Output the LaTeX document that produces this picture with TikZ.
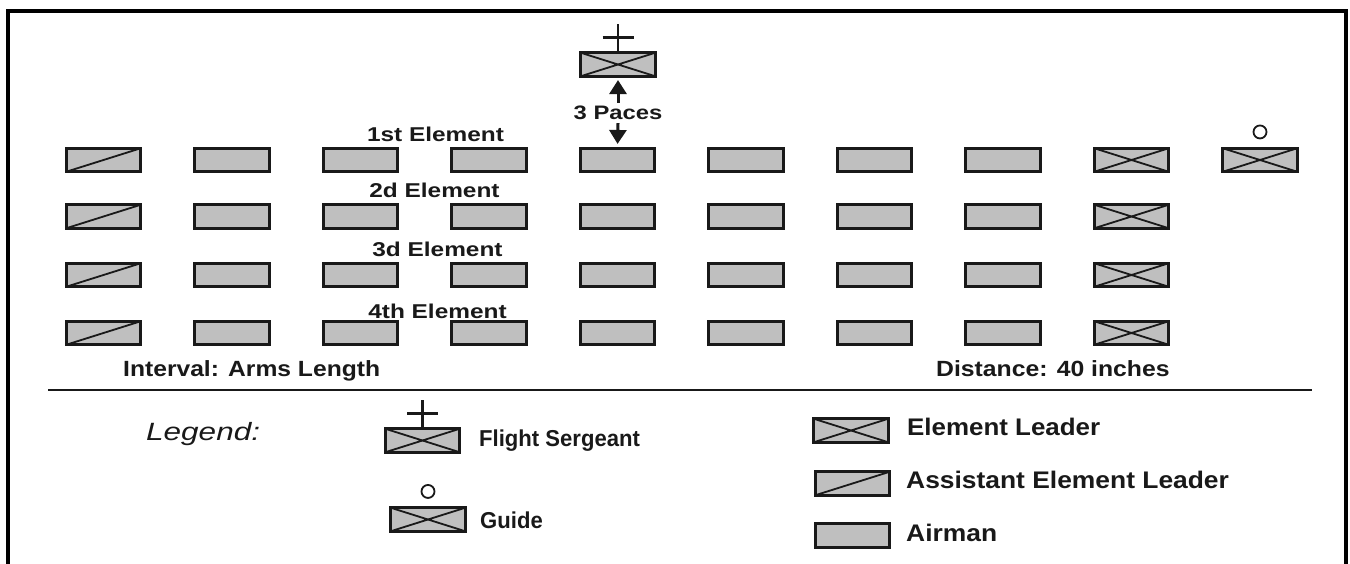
\documentclass[tikz,border=0pt]{standalone}
\usepackage{fontspec}
\usepackage{graphicx}
\setmainfont{Liberation Sans}
\usetikzlibrary{arrows.meta}
\newcommand{\hsc}[2]{\scalebox{#1}[1]{#2}}
\definecolor{boxfill}{gray}{0.75}
\definecolor{ink}{gray}{0.1}
\newcommand{\sgcross}[1]{\draw[ink,line width=2.4pt] (#1.north) -- ++(0,-27) ([xshift=-15.5pt]#1.north) ++(0,-14) -- ++(31,0);}
\newcommand{\gdmark}[1]{\draw[ink,line width=1.8pt] (#1.north) ++(0,-15) circle[radius=6.5pt];}
\begin{document}
\begin{tikzpicture}[x=1pt,y=-1pt,
  man/.style={shape=rectangle, draw=ink, line width=2.6pt, fill=boxfill,
    minimum width=74.5pt, minimum height=23.5pt, inner sep=0pt},
  lead/.style={man, path picture={\draw[ink,line width=1.8pt]
    (path picture bounding box.north west) -- (path picture bounding box.south east)
    (path picture bounding box.south west) -- (path picture bounding box.north east);}},
  asst/.style={man, path picture={\draw[ink,line width=1.8pt]
    (path picture bounding box.south west) -- (path picture bounding box.north east);}},
  lab/.style={inner sep=0pt, text=ink, font=\bfseries},
  arr/.style={ink, line width=3pt, -{Triangle[width=17pt,length=14pt]}}
]
\useasboundingbox (0,0) rectangle (1350,564);
% frame
\draw[black, line width=4pt] (8,564) -- (8,11) -- (1346,11) -- (1346,564);
% divider
\draw[ink, line width=2pt] (48,390) -- (1312,390);

% formation
\foreach \r/\yy in {1/160,2/216.5,3/275,4/333}{
  \node[asst] (b\r-1) at (103.5,\yy) {};
  \foreach \c in {2,...,8}{
    \node[man] (b\r-\c) at ({103.5+128.5*(\c-1)},\yy) {};
  }
  \node[lead] (b\r-9) at (1131.5,\yy) {};
}
\node[lead] (guide) at (1260,160) {};
\gdmark{guide}

% flight sergeant
\node[lead] (fs) at (618,64.5) {};
\sgcross{fs}
\node[lab, minimum height=20pt] (paces) at (618,113) {\fontsize{19.5}{20}\selectfont\hsc{1.22}{3 Paces}};
\draw[arr, shorten >=2.5pt] (paces.north) -- (fs.south);
\draw[arr, shorten >=3pt] (paces.south) -- (b1-5.north);

% element labels
\node[lab, anchor=base] (e1) at (435.5,141.5) {\fontsize{20}{24}\selectfont\hsc{1.22}{1st Element}};
\node[lab, anchor=base] (e2) at (434.5,198) {\fontsize{20}{24}\selectfont\hsc{1.22}{2d Element}};
\node[lab, anchor=base] (e3) at (437.5,257) {\fontsize{20}{24}\selectfont\hsc{1.22}{3d Element}};
\node[lab, anchor=base] (e4) at (437.5,318) {\fontsize{20}{24}\selectfont\hsc{1.22}{4th Element}};

\node[lab, anchor=base west] (interval) at (123,376.5) {\fontsize{22}{26}\selectfont\hsc{1.12}{Interval: Arms Length}};
\node[lab, anchor=base west] (distance) at (936,376.5) {\fontsize{22}{26}\selectfont\hsc{1.125}{Distance: 40 inches}};

% legend
\node[inner sep=0pt, anchor=base west, text=ink] (legend) at (146,440.7) {\fontsize{25}{30}\selectfont\itshape\hsc{1.26}{Legend:}};

\node[lead] (lfs) at (422.5,440.5) {};
\sgcross{lfs}
\node[lab, anchor=base west] (lfst) at (479,446.7) {\fontsize{23}{28}\selectfont\hsc{0.96}{Flight Sergeant}};

\node[lead] (lgd) at (428,519.5) {};
\gdmark{lgd}
\node[lab, anchor=base west] (lgdt) at (480,528) {\fontsize{23}{28}\selectfont\hsc{0.96}{Guide}};

\node[lead] (lel) at (851,430.5) {};
\node[lab, anchor=base west] (lelt) at (907,435) {\fontsize{24}{28}\selectfont\hsc{1.08}{Element Leader}};

\node[asst] (las) at (852.5,483.5) {};
\node[lab, anchor=base west] (last) at (906,488) {\fontsize{24}{28}\selectfont\hsc{1.1}{Assistant Element Leader}};

\node[man] (lai) at (852.5,535.5) {};
\node[lab, anchor=base west] (lait) at (906,541.5) {\fontsize{24}{28}\selectfont\hsc{1.1}{Airman}};
\end{tikzpicture}
\end{document}
